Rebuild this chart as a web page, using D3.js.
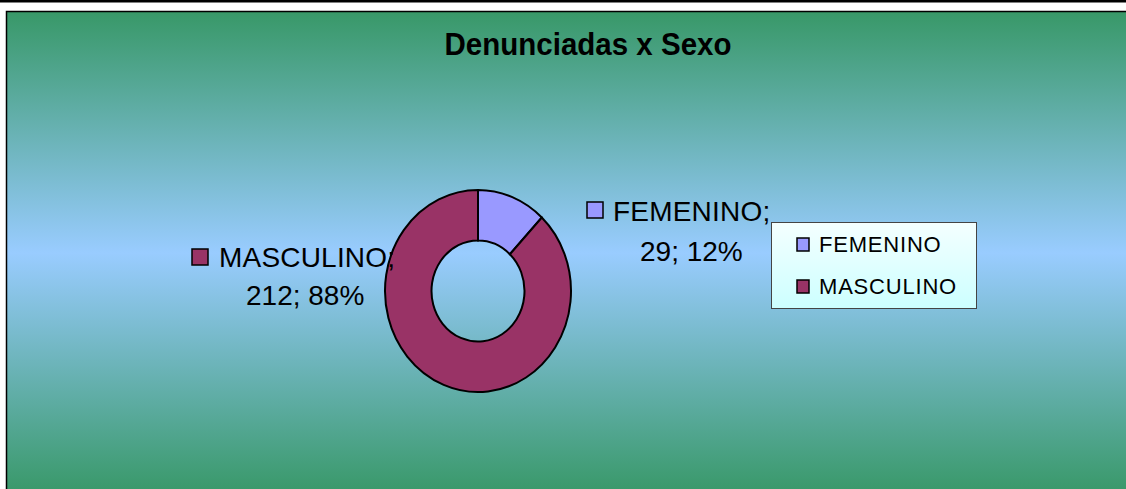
<!DOCTYPE html>
<html>
<head>
<meta charset="utf-8">
<script src="https://cdn.jsdelivr.net/npm/d3@7"></script>
<style>
html,body{margin:0;padding:0;background:#fff;}
svg{display:block;}
text{font-family:"Liberation Sans",Arial,sans-serif;}
</style>
</head>
<body>
<svg id="chart" width="1126" height="489"></svg>
<script>
const title = "Denunciadas x Sexo";
const categories = ["FEMENINO", "MASCULINO"];
const values = [29, 212];
const colors = ["#9999ff", "#993366"];

const svg = d3.select("#chart");
const defs = svg.append("defs");

const bg = defs.append("linearGradient").attr("id","bg").attr("x1",0).attr("y1",0).attr("x2",0).attr("y2",1);
bg.append("stop").attr("offset","0%").attr("stop-color","#389868");
bg.append("stop").attr("offset","50%").attr("stop-color","#99ccff");
bg.append("stop").attr("offset","100%").attr("stop-color","#389868");

const lg = defs.append("linearGradient").attr("id","lg").attr("x1",0).attr("y1",0).attr("x2",0).attr("y2",1);
lg.append("stop").attr("offset","0%").attr("stop-color","#f4ffff");
lg.append("stop").attr("offset","100%").attr("stop-color","#ccffff");

// top page line
svg.append("rect").attr("x",0).attr("y",0).attr("width",1126).attr("height",2.5).attr("fill","#000");

// chart area
svg.append("rect").attr("x",6.5).attr("y",11.5).attr("width",1130).attr("height",483)
  .attr("fill","url(#bg)").attr("stroke","#000").attr("stroke-width",1.5);

// title
svg.append("text").attr("x",588).attr("y",55).attr("text-anchor","middle")
  .attr("font-size",32).attr("font-weight","bold")
  .attr("textLength",287).attr("lengthAdjust","spacingAndGlyphs")
  .text(title);

// donut
const cx = 478, cy = 291, rx = 93, ry = 101;
const pie = d3.pie().sort(null).value(d => d)(values);
const arc = d3.arc().innerRadius(46.5).outerRadius(rx);
const g = svg.append("g").attr("transform", `translate(${cx},${cy}) scale(1,${ry/rx})`);
g.selectAll("path").data(pie).join("path")
  .attr("d", arc)
  .attr("fill", (d,i) => colors[i])
  .attr("stroke","#000").attr("stroke-width",2)
  .attr("vector-effect","non-scaling-stroke");

// data labels
const total = d3.sum(values);
const pct = v => Math.round(v / total * 100) + "%";
const labelPos = [
  {mx:587, my:202, tx:613, ty:221, l2x:640, l2y:261},
  {mx:192, my:249, tx:219, ty:267, l2x:246, l2y:305}
];
categories.forEach((c,i) => {
  const p = labelPos[i];
  svg.append("rect").attr("x",p.mx).attr("y",p.my).attr("width",16).attr("height",16)
    .attr("fill",colors[i]).attr("stroke","#000").attr("stroke-width",1.5);
  svg.append("text").attr("x",p.tx).attr("y",p.ty).attr("font-size",28).attr("letter-spacing",0.2)
    .text(c + ";");
  svg.append("text").attr("x",p.l2x).attr("y",p.l2y).attr("font-size",28)
    .text(values[i] + "; " + pct(values[i]));
});

// legend
svg.append("rect").attr("x",771.5).attr("y",222.5).attr("width",205).attr("height",86)
  .attr("fill","url(#lg)").attr("stroke","#444").attr("stroke-width",1);
categories.forEach((c,i) => {
  const y = 238 + i*42;
  svg.append("rect").attr("x",797).attr("y",y).attr("width",12).attr("height",13)
    .attr("fill",colors[i]).attr("stroke","#000").attr("stroke-width",1.5);
  svg.append("text").attr("x",819).attr("y",y+14).attr("font-size",22).attr("letter-spacing",0.8)
    .text(c);
});
</script>
</body>
</html>
